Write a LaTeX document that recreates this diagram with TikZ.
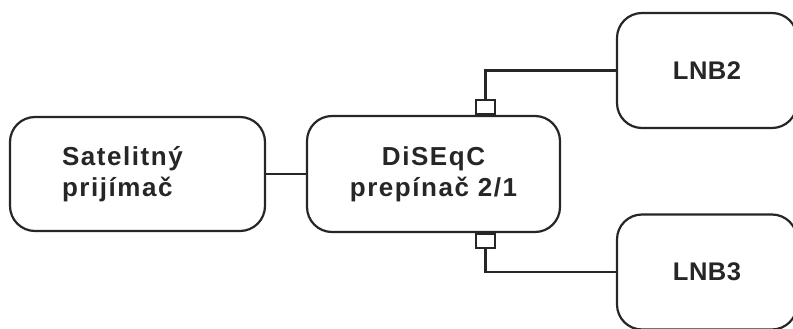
\documentclass[tikz,border=0pt]{standalone}
\usepackage{fontspec}
\usepackage{tikz}
\usetikzlibrary{positioning, calc}
\newfontfamily\boxfont[LetterSpace=6]{Liberation Sans}
\newfontfamily\lnbfont[LetterSpace=2]{Liberation Sans}
\definecolor{inkgray}{HTML}{262626}

\begin{document}
\begin{tikzpicture}[x=1pt, y=-1pt,
    unit/.style={draw=inkgray, line width=2.2pt, rounded corners=25pt, fill=white,
      text=inkgray, font=\boxfont\bfseries\fontsize{26}{31}\selectfont},
    lnbbox/.style={unit, font=\lnbfont\bfseries\fontsize{25.5}{31}\selectfont,
      minimum width=180pt, minimum height=115pt},
    port/.style={draw=inkgray, line width=2pt, fill=white, minimum width=19pt,
      minimum height=14pt, inner sep=0pt},
    wire/.style={draw=inkgray, line width=2.2pt}]
    % Page
    \clip (0,0) rectangle (793,329);

    % Main units
    \node[unit, text width=151pt, inner xsep=52pt, align=left, minimum height=114pt]
      (receiver) at (137.5,174) {Satelitný\\prijímač};
    \node[unit, align=center, minimum width=253pt, minimum height=116pt]
      (switch) at (433.5,174) {DiSEqC\\prepínač 2/1};

    % LNBs
    \node[lnbbox] (lnbtwo) at (707,70.5) {LNB2};
    \node[lnbbox] (lnbthree) at (707,272) {LNB3};

    % Switch inputs
    \node[port, anchor=south] (portup) at ([xshift=52pt]switch.north) {};
    \node[port, anchor=north] (portdown) at ([xshift=52pt]switch.south) {};

    % Cables
    \draw[wire] (receiver.east) -- (switch.west);
    \draw[wire] (portup.north) |- (lnbtwo.west);
    \draw[wire] (portdown.south) |- (lnbthree.west);
\end{tikzpicture}
\end{document}
